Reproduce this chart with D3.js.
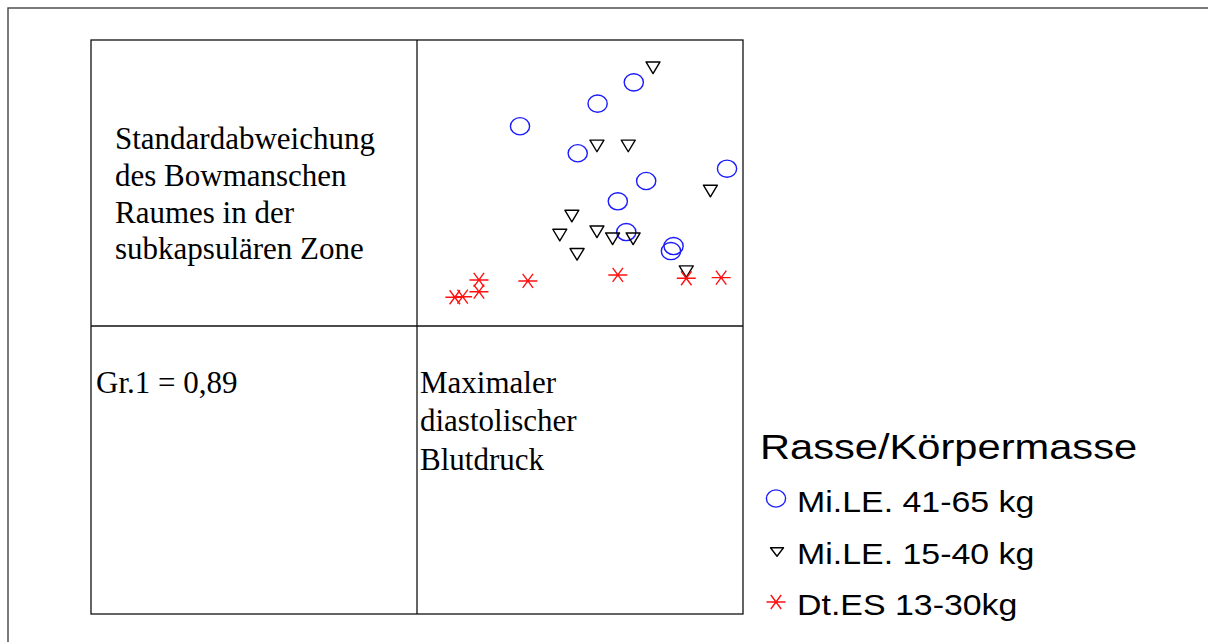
<!DOCTYPE html>
<html>
<head>
<meta charset="utf-8">
<script src="https://cdn.jsdelivr.net/npm/d3@7"></script>
<style>
  body { margin: 0; background: #fff; }
  svg { display: block; }
</style>
</head>
<body>
<svg id="chart" width="1208" height="642"></svg>
<script>
// groups (legend order)
const groups = ["Mi.LE. 41-65 kg", "Mi.LE. 15-40 kg", "Dt.ES 13-30kg"];

// x = maximaler diastolischer Blutdruck, y = Standardabweichung Bowmanscher Raum
const heavyX = [106.5, 95.4, 71.6, 89.3, 135.1, 110.3, 101.6, 104.2, 118.7, 117.9];
const heavyY = [1.704, 1.555, 1.397, 1.208, 1.100, 1.014, 0.872, 0.657, 0.559, 0.524];

const lightX = [112.4, 95.2, 104.8, 130.0, 87.5, 83.8, 95.2, 100.0, 106.3, 89.1, 122.6];
const lightY = [1.806, 1.259, 1.259, 0.944, 0.769, 0.636, 0.659, 0.610, 0.610, 0.501, 0.380];

const esX = [59.0, 59.0, 51.6, 54.0, 74.0, 101.6, 122.6, 133.3];
const esY = [0.322, 0.240, 0.201, 0.205, 0.315, 0.357, 0.334, 0.338];

const yLabelLines = ["Standardabweichung", "des Bowmanschen", "Raumes in der", "subkapsulären Zone"];
const xLabelLines = ["Maximaler", "diastolischer", "Blutdruck"];
const corrLabel = "Gr.1 = 0,89";
const legendTitle = "Rasse/Körpermasse";

const svg = d3.select("#chart");

// panel grid
let gridLeft = 91, gridMid = 417, gridRight = 743,
    gridTop = 40, gridMidY = 326, gridBottom = 614;

// outer frame (right and bottom edges fall off the picture)
svg.append("rect")
  .attr("x", 8).attr("y", 8)
  .attr("width", 1260).attr("height", 700)
  .style("fill", "none")
  .style("stroke", "#444")
  .style("stroke-width", 1.4);

svg.append("rect")
  .attr("x", gridLeft).attr("y", gridTop)
  .attr("width", gridRight - gridLeft).attr("height", gridBottom - gridTop)
  .style("fill", "none")
  .style("stroke", "#111")
  .style("stroke-width", 1.3);

svg.append("line")
  .attr("x1", gridMid).attr("x2", gridMid)
  .attr("y1", gridTop).attr("y2", gridBottom)
  .style("stroke", "#111").style("stroke-width", 1.3);

svg.append("line")
  .attr("x1", gridLeft).attr("x2", gridRight)
  .attr("y1", gridMidY).attr("y2", gridMidY)
  .style("stroke", "#111").style("stroke-width", 1.3);

// scales for the scatter panel (top right)
var xScale = d3.scaleLinear().domain([40, 140]).range([gridMid, gridRight]);
var yScale = d3.scaleLinear().domain([0, 2]).range([gridMidY, gridTop]);

// marker shapes
const triPath = "M-7,-5.8L7,-5.8L0,5.8Z";
const triSmall = "M-6.5,-4.2L6.5,-4.2L0,4.2Z";
const starPath = "M-9.5,0L9.5,0M-5.2,-7L5.2,7M-5.2,7L5.2,-7";

function drawCircle(g, x, y) {
  g.append("ellipse")
    .attr("cx", x).attr("cy", y)
    .attr("rx", 9.6).attr("ry", 8.6)
    .style("fill", "none")
    .style("stroke", "#1a1aff")
    .style("stroke-width", 1.4);
}
function drawTri(g, x, y, d) {
  g.append("path")
    .attr("d", d || triPath)
    .attr("transform", "translate(" + x + "," + y + ")")
    .style("fill", "none")
    .style("stroke", "#000")
    .style("stroke-width", 1.4)
    .style("stroke-linejoin", "round");
}
function drawStar(g, x, y) {
  g.append("path")
    .attr("d", starPath)
    .attr("transform", "translate(" + x + "," + y + ")")
    .style("fill", "none")
    .style("stroke", "#ff1010")
    .style("stroke-width", 1.4);
}

const pts = svg.append("g");
heavyX.forEach((v, i) => drawCircle(pts, xScale(v), yScale(heavyY[i])));
lightX.forEach((v, i) => drawTri(pts, xScale(v), yScale(lightY[i])));
esX.forEach((v, i) => drawStar(pts, xScale(v), yScale(esY[i])));

// panel labels
svg.append("g").selectAll("text")
  .data(yLabelLines)
  .enter()
  .append("text")
    .attr("x", 115)
    .attr("y", (d, i) => 149 + i * 36.8)
    .style("font-family", "'Liberation Serif', 'Times New Roman', serif")
    .attr("font-size", 31)
    .style("fill", "#000")
    .text(d => d);

svg.append("text")
  .attr("x", 96)
  .attr("y", 393)
  .style("font-family", "'Liberation Serif', 'Times New Roman', serif")
  .attr("font-size", 31)
  .style("fill", "#000")
  .text(corrLabel);

svg.append("g").selectAll("text")
  .data(xLabelLines)
  .enter()
  .append("text")
    .attr("x", 420)
    .attr("y", (d, i) => 393 + i * 38.4)
    .style("font-family", "'Liberation Serif', 'Times New Roman', serif")
    .attr("font-size", 31)
    .style("fill", "#000")
    .text(d => d);

// legend
svg.append("text")
  .attr("transform", "translate(760,459) scale(1.19,1)")
  .style("font-family", "'Liberation Sans', Arial, sans-serif")
  .attr("font-size", 35)
  .style("fill", "#000")
  .text(legendTitle);

const legend = svg.append("g");
legend.selectAll("text")
  .data(groups)
  .enter()
  .append("text")
    .attr("transform", (d, i) => "translate(797," + (512 + i * 51.5) + ") scale(1.13,1)")
    .style("font-family", "'Liberation Sans', Arial, sans-serif")
    .attr("font-size", 30)
    .style("fill", "#000")
    .text(d => d);

drawCircle(legend, 776, 498.5);
drawTri(legend, 777, 552, triSmall);
drawStar(legend, 776, 602);
</script>
</body>
</html>
